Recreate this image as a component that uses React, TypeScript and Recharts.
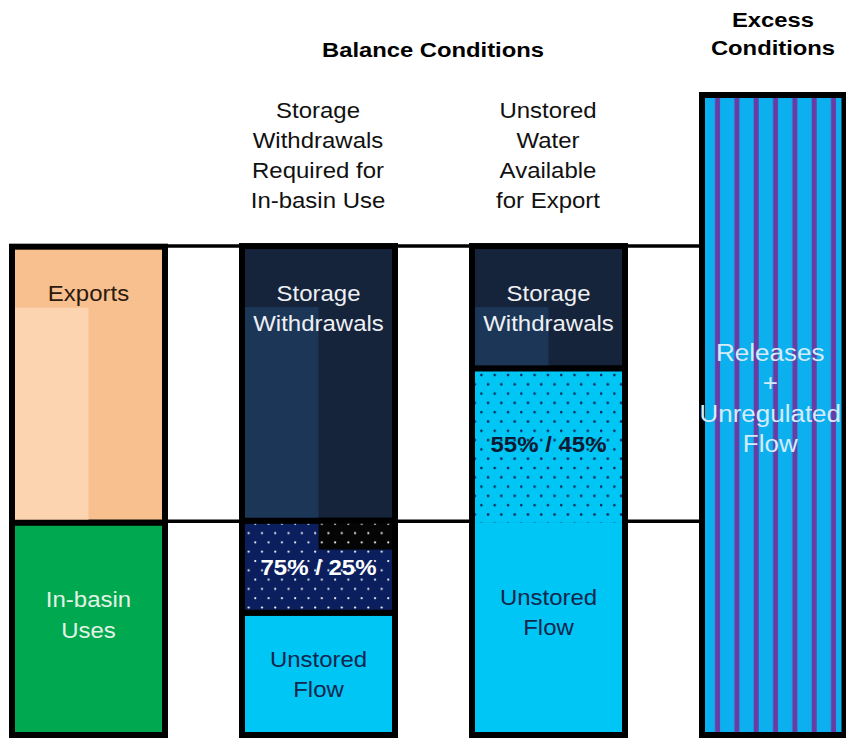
import React from "react"
import { Bar, BarChart, LabelList, ReferenceArea, ReferenceLine, XAxis, YAxis } from "recharts"

// columns of the diagram
const categories = ["Uses", "Storage Withdrawals Required", "Unstored Water Available", "Excess"]

// stacked segment heights (share of full excess column)
const baseValues = [33.2, 19.1, 33.6, 0]
const middleValues = [0, 14.4, 23.7, 0]
const topValues = [43.1, 42.9, 19.1, 0]
const flowValues = [0, 0, 0, 100]

const baseLabels = ["In-basin\nUses", "Unstored\nFlow", "Unstored\nFlow", ""]
const middleLabels = ["", "75% / 25%", "55% / 45%", ""]
const topLabels = ["Exports", "Storage\nWithdrawals", "Storage\nWithdrawals", ""]
const flowLabels = ["", "", "", "Releases\n+\nUnregulated\nFlow"]

const headerLabels = ["", "Storage\nWithdrawals\nRequired for\nIn-basin Use", "Unstored\nWater\nAvailable\nfor Export", ""]
const groupTitles = ["Balance Conditions", "Excess\nConditions"]

// water levels drawn across the gaps
const levelLines = [76.4, 33.4]

const data = categories.map((name, i) => ({
  name,
  base: baseValues[i],
  middle: middleValues[i],
  top: topValues[i],
  flow: flowValues[i],
  baseLabel: baseLabels[i],
  middleLabel: middleLabels[i],
  topLabel: topLabels[i],
  flowLabel: flowLabels[i],
}))

const W = 920
const H = 738
const SHIFT = 27.5
const CLIP_RIGHT = 871.5
const BAR = 153
const B = 3
const FONT = "Liberation Sans, Arial, sans-serif"

const FILLS: Record<string, string[]> = {
  base: ["#00a84f", "#00c6f5", "#00c6f5", "none"],
  middle: ["none", "url(#dotsNavy)", "url(#dotsCyan)", "none"],
  top: ["#f8bf8f", "#15233b", "#15233b", "none"],
  flow: ["none", "none", "none", "url(#stripes)"],
}
const ACCENTS = ["#fcd4b0", "#1c3658", "#1c3658"]

const TEXT_COLORS: Record<string, string[]> = {
  base: ["#e4f3e6", "#13264e", "#13264e", ""],
  middle: ["", "#ffffff", "#0d1a33", ""],
  top: ["#2b1a0e", "#eef0f4", "#eef0f4", ""],
  flow: ["", "", "", "#d6ebfb"],
}

const Lines = ({ cx, y0, lines, size, weight, fill, sx, lh }: any) => (
  <text
    transform={`translate(${cx},${y0}) scale(${sx},1)`}
    textAnchor="middle"
    fontFamily={FONT}
    fontSize={size}
    fontWeight={weight}
    fill={fill}
  >
    {lines.map((l: string, i: number) => (
      <tspan key={i} x={0} y={i * lh}>
        {l}
      </tspan>
    ))}
  </text>
)

const segmentShape = (key: string) => (props: any) => {
  const { x, y, width, height, index } = props
  if (!height || height <= 0) return <g />
  const w = Math.min(width, CLIP_RIGHT - x)
  const openBottom = key === "middle" && index === 2
  return (
    <g>
      <rect x={x - B} y={y - B} width={w + 2 * B} height={height + 2 * B} fill="#000" />
      <rect
        x={x + B}
        y={y + B}
        width={w - 2 * B}
        height={openBottom ? height : height - 2 * B}
        fill={FILLS[key][index]}
      />
      {key === "top" && (
        <rect x={x + B} y={y + 61} width={w / 2 - B} height={Math.max(0, height - 61 - B)} fill={ACCENTS[index]} />
      )}
      {key === "middle" && index === 1 && (
        <rect x={x + w / 2} y={y + B} width={w / 2 - B} height={26} fill="url(#dotsBlack)" />
      )}
    </g>
  )
}

const segmentLabel = (key: string) => (props: any) => {
  const vb = props.viewBox && props.viewBox.width !== undefined ? props.viewBox : props
  const { x, y, width, height } = vb
  const { value, index } = props
  if (!value || !height) return null
  const lines = String(value).split("\n")
  const w = Math.min(width, CLIP_RIGHT - x)
  const cx = x + w / 2 - (key === "flow" ? 3 : 0)
  const lh = 30.5
  let first = 0
  if (key === "top") first = y + 54.5
  else if (key === "middle") first = y + height / 2 + 8
  else if (key === "base") {
    const c = Math.min(y + height / 2, y + 92)
    first = c - ((lines.length - 1) * lh) / 2 + 8
  } else first = y + 266
  const bold = key === "middle"
  return (
    <Lines
      cx={cx}
      y0={first}
      lines={lines}
      size={key === "flow" ? 23 : 22}
      weight={bold ? "bold" : "normal"}
      fill={TEXT_COLORS[key][index]}
      sx={key === "flow" ? 1.13 : 1.09}
      lh={lh}
    />
  )
}

const HeaderTick = (props: any) => {
  const { x, payload } = props
  const i = categories.indexOf(payload.value)
  if (i === 3) {
    const cx = (x - BAR / 2 + CLIP_RIGHT) / 2
    return (
      <Lines cx={cx} y0={26.5} lines={groupTitles[1].split("\n")} size={20} weight="bold" fill="#000" sx={1.19} lh={29} />
    )
  }
  if (!headerLabels[i]) return <g />
  return (
    <Lines cx={x} y0={118} lines={headerLabels[i].split("\n")} size={22} weight="normal" fill="#111" sx={1.09} lh={30} />
  )
}

const GroupTitle = (props: any) => {
  const vb = props.viewBox || {}
  return (
    <Lines cx={vb.x + vb.width / 2} y0={56.5} lines={[groupTitles[0]]} size={20} weight="bold" fill="#000" sx={1.19} lh={30} />
  )
}

export default function App() {
  return (
    <div style={{ position: "absolute", left: 0, top: 0, width: 846, height: 738, overflow: "hidden", background: "#fff" }}>
      <div style={{ position: "absolute", left: -SHIFT, top: 0 }}>
        <BarChart width={W} height={H} data={data} margin={{ top: 0, right: 0, bottom: 3, left: 0 }} barSize={BAR}>
          <defs>
            <pattern id="dotsNavy" patternUnits="userSpaceOnUse" width={13.3} height={18.6}>
              <rect width={13.3} height={18.6} fill="#0b1f5e" />
              <circle cx={3} cy={3} r={1.1} fill="#ffffff" />
              <circle cx={9.65} cy={12.3} r={1.1} fill="#ffffff" />
            </pattern>
            <pattern id="dotsBlack" patternUnits="userSpaceOnUse" width={13.3} height={18.6}>
              <rect width={13.3} height={18.6} fill="#050505" />
              <circle cx={3} cy={3} r={1.1} fill="#ffffff" />
              <circle cx={9.65} cy={12.3} r={1.1} fill="#ffffff" />
            </pattern>
            <pattern id="dotsCyan" patternUnits="userSpaceOnUse" width={13.3} height={18.6}>
              <rect width={13.3} height={18.6} fill="#00c6f5" />
              <circle cx={3} cy={3} r={1.3} fill="#10244f" />
              <circle cx={9.65} cy={12.3} r={1.3} fill="#10244f" />
            </pattern>
            <pattern id="stripes" patternUnits="userSpaceOnUse" width={19.33} height={20}>
              <rect width={19.33} height={20} fill="#0cb0ee" />
              <rect x={7.5} width={5} height={20} fill="#6a3ba3" />
            </pattern>
          </defs>
          <XAxis
            dataKey="name"
            orientation="top"
            height={95}
            axisLine={false}
            tickLine={false}
            interval={0}
            tick={<HeaderTick />}
          />
          <YAxis hide domain={[0, 100]} />
          {levelLines.map((v) => (
            <ReferenceLine
              key={v}
              segment={[
                { x: categories[0], y: v },
                { x: categories[3], y: v },
              ]}
              stroke="#000"
              strokeWidth={3.5}
              zIndex={-10}
            />
          ))}
          <ReferenceArea
            x1={categories[1]}
            x2={categories[2]}
            y1={levelLines[0]}
            y2={100}
            fill="none"
            stroke="none"
            label={<GroupTitle />}
          />
          <Bar dataKey="base" stackId="a" isAnimationActive={false} shape={segmentShape("base")}>
            <LabelList dataKey="baseLabel" content={segmentLabel("base")} />
          </Bar>
          <Bar dataKey="middle" stackId="a" isAnimationActive={false} shape={segmentShape("middle")}>
            <LabelList dataKey="middleLabel" content={segmentLabel("middle")} />
          </Bar>
          <Bar dataKey="top" stackId="a" isAnimationActive={false} shape={segmentShape("top")}>
            <LabelList dataKey="topLabel" content={segmentLabel("top")} />
          </Bar>
          <Bar dataKey="flow" stackId="a" isAnimationActive={false} shape={segmentShape("flow")}>
            <LabelList dataKey="flowLabel" content={segmentLabel("flow")} />
          </Bar>
        </BarChart>
      </div>
    </div>
  )
}
